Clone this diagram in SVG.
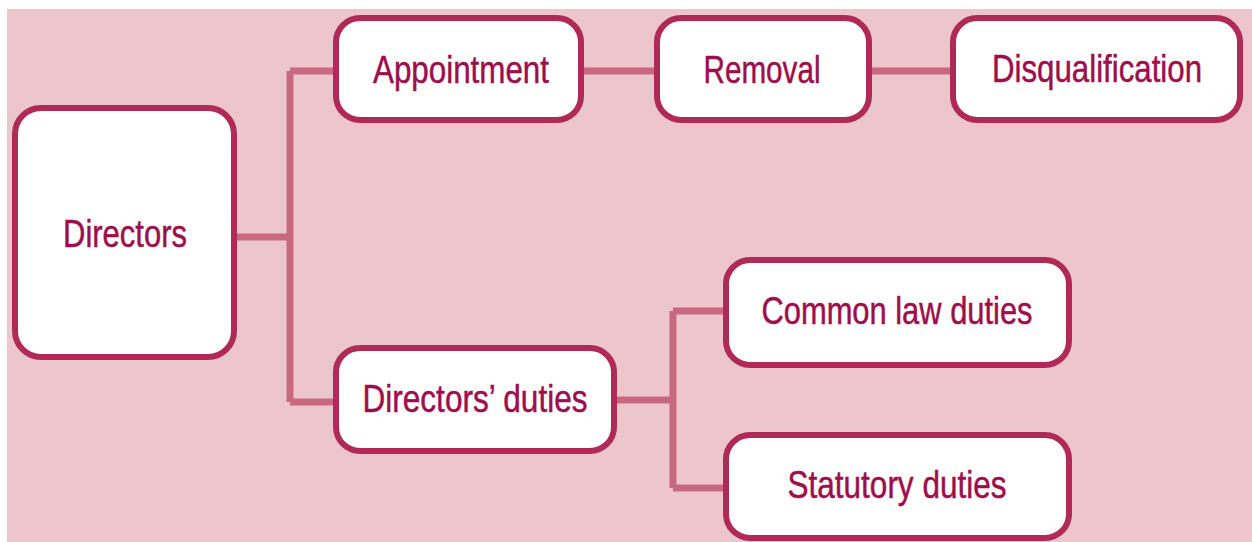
<svg xmlns="http://www.w3.org/2000/svg" width="1252" height="542" viewBox="0 0 1252 542">
  <style>
    .box { fill: #ffffff; stroke: #b02a57; stroke-width: 6; }
    .lbl { font-family: "Liberation Sans", Arial, sans-serif; font-size: 38px; fill: #9c0f4b; stroke: #9c0f4b; stroke-width: 0.5; text-anchor: middle; }
    .link { fill: none; stroke: #c96981; stroke-width: 7; }
  </style>

  <!-- page -->
  <rect x="0" y="0" width="1252" height="542" fill="#ffffff"/>
  <rect x="7" y="9" width="1245" height="533" fill="#ecc6cc"/>

  <!-- connectors -->
  <g id="connectors">
    <path class="link" d="M237 237 H290 M290 71 V402 M290 71 H336 M290 402 H336"/>
    <path class="link" d="M583 71 H657 M869 71 H953"/>
    <path class="link" d="M614 400 H673 M673 311 V488 M673 311 H726 M673 488 H726"/>
  </g>

  <g id="directors">
    <rect class="box" x="15" y="108" width="219" height="249" rx="26"/>
    <text class="lbl" x="125" y="247" textLength="124" lengthAdjust="spacingAndGlyphs">Directors</text>
  </g>

  <g id="appointment">
    <rect class="box" x="336" y="18" width="245" height="102" rx="24"/>
    <text class="lbl" x="461" y="83" textLength="176" lengthAdjust="spacingAndGlyphs">Appointment</text>
  </g>

  <g id="removal">
    <rect class="box" x="657" y="18" width="212" height="102" rx="24"/>
    <text class="lbl" x="762" y="83" textLength="117" lengthAdjust="spacingAndGlyphs">Removal</text>
  </g>

  <g id="disqualification">
    <rect class="box" x="953" y="18" width="287" height="102" rx="24"/>
    <text class="lbl" x="1097" y="82" textLength="210" lengthAdjust="spacingAndGlyphs">Disqualification</text>
  </g>

  <g id="directors-duties">
    <rect class="box" x="336" y="348" width="278" height="103" rx="24"/>
    <text class="lbl" x="475" y="412" textLength="225" lengthAdjust="spacingAndGlyphs">Directors’ duties</text>
  </g>

  <g id="common-law-duties">
    <rect class="box" x="726" y="260" width="343" height="105" rx="24"/>
    <text class="lbl" x="897" y="324" textLength="271" lengthAdjust="spacingAndGlyphs">Common law duties</text>
  </g>

  <g id="statutory-duties">
    <rect class="box" x="726" y="435" width="343" height="103" rx="24"/>
    <text class="lbl" x="897" y="498" textLength="219" lengthAdjust="spacingAndGlyphs">Statutory duties</text>
  </g>
</svg>
